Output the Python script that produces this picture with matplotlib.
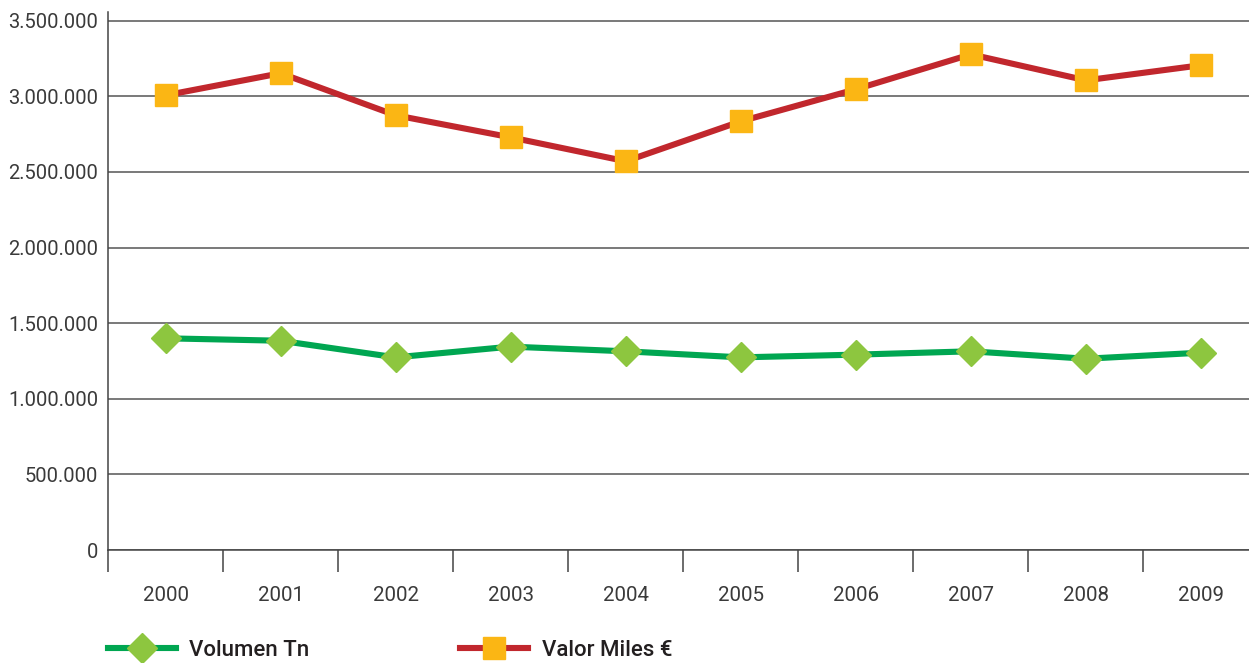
import matplotlib
matplotlib.use('Agg')
import matplotlib.pyplot as plt
from matplotlib.ticker import FixedLocator, FuncFormatter

plt.rcParams['font.family'] = ['Roboto', 'DejaVu Sans']

# datos
years = ['2000', '2001', '2002', '2003', '2004', '2005', '2006', '2007', '2008', '2009']
volumen_tn = [1400000, 1384000, 1274000, 1345000, 1314000, 1274000, 1292000, 1314000, 1265000, 1305000]
valor_miles = [3007000, 3153000, 2875000, 2729000, 2571000, 2835000, 3047000, 3278000, 3106000, 3206000]
y_ticks = [0, 500000, 1000000, 1500000, 2000000, 2500000, 3000000, 3500000]

GREEN_LINE = '#00a651'
GREEN_MARK = '#8dc63f'
RED_LINE = '#c1272d'
ORANGE_MARK = '#fbb614'
GRID = '#555555'
TEXT = '#3a3a3a'

fig = plt.figure(figsize=(12.49, 6.63), dpi=100)
ax = fig.add_axes([108 / 1249, 113 / 663, 1 - 108 / 1249, (550 - 12) / 663])

x = list(range(len(years)))
ax.plot(x, volumen_tn, color=GREEN_LINE, lw=4.4, marker='D', ms=15.6,
        mfc=GREEN_MARK, mec=GREEN_MARK, label='Volumen Tn', zorder=3)
ax.plot(x, valor_miles, color=RED_LINE, lw=4.4, marker='s', ms=16.5,
        mfc=ORANGE_MARK, mec=ORANGE_MARK, label='Valor Miles €', zorder=3)

# ejes y rejilla
for side in ['top', 'right']:
    ax.spines[side].set_visible(False)
for side in ['left', 'bottom']:
    ax.spines[side].set_color('#444444')
    ax.spines[side].set_linewidth(1.1)

ax.yaxis.set_major_locator(FixedLocator(y_ticks))
ax.yaxis.set_major_formatter(FuncFormatter(lambda v, p: f'{v:,.0f}'.replace(',', '.')))
ax.grid(axis='y', color=GRID, lw=1.1, zorder=1)
ax.set_axisbelow(True)

ax.set_xticks(x)
ax.set_xticklabels(years)
ax.set_xticks([i - 0.5 for i in range(len(years) + 1)], minor=True)
ax.tick_params(axis='x', which='major', length=0, pad=26, labelsize=14.8, labelcolor=TEXT)
ax.tick_params(axis='x', which='minor', length=16, width=1.1, color='#444444', direction='out')
ax.tick_params(axis='y', length=0, pad=7, labelsize=14.5, labelcolor=TEXT)

# limites despues de los ticks (set_xticks los amplia)
ax.set_xlim(-0.5, (1249 - 166) / 115)
ax.set_ylim(0, 3558000)

leg = fig.legend(loc='center left', bbox_to_anchor=(108 / 1249, 13 / 663), ncol=2,
                 frameon=False, fontsize=16, handlelength=3.05, handletextpad=0.6,
                 columnspacing=6.8, borderpad=0, borderaxespad=0)
for t in leg.get_texts():
    t.set_color('#231f20')
    t.set_fontweight('medium')

plt.savefig('out.png', dpi=100)
plt.close()
